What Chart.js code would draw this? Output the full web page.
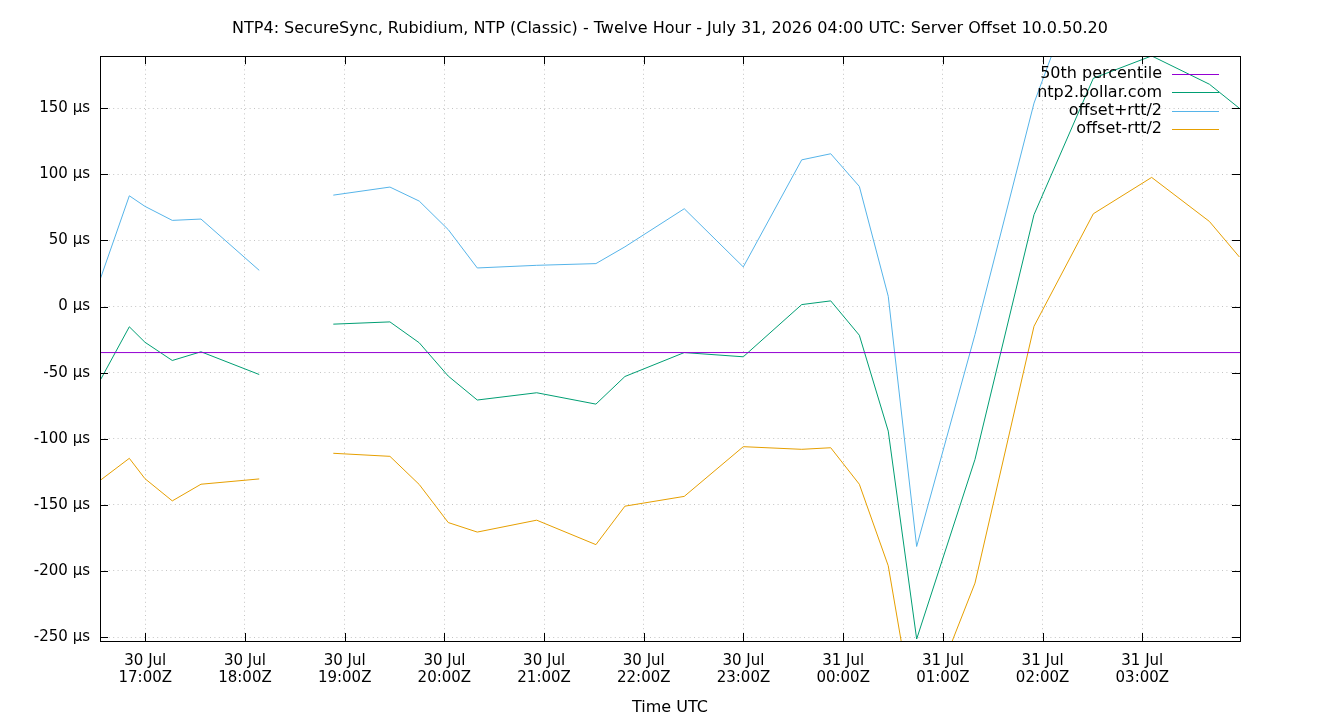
<!DOCTYPE html>
<html>
<head>
<meta charset="utf-8">
<title>Server Offset 10.0.50.20</title>
<script src="https://cdn.jsdelivr.net/npm/chart.js@4.4.1/dist/chart.umd.min.js"></script>
<style>
  body { margin: 0; background: #fff; }
  #wrap { width: 1340px; height: 720px; }
</style>
</head>
<body>
<div id="wrap"><canvas id="offsetChart" width="1340" height="720"></canvas></div>
<script>
// sample times, hours since 30 Jul 00:00 UTC (null row = gap in the data)
const sampleHours = [16.553, 16.84, 16.997, 17.271, 17.559, 18.143, 18.5, 18.886, 19.454, 19.748, 20.039, 20.33,
  20.926, 21.52, 21.811, 22.406, 22.998, 23.584, 23.875, 24.162, 24.452, 24.737, 25.322, 25.914, 26.509, 27.094, 27.673, 27.974]

// ntp2.bollar.com offset (µs)
const offsetUs = [-55.1, -15.3, -27, -40.8, -34.2, -51.4, null, -13.3, -11.6, -27.4, -52.6, -70.7,
  -65.2, -73.8, -52.9, -34.8, -38, 1.5, 4.3, -21.7, -94.2, -251.5, -115.6, 69.5, 172.7, 189.6, 168.2, 150]

// offset + rtt/2 (µs)
const upperUs = [21.7, 83.8, 75.8, 65.2, 66.2, 27.4, null, 84.3, 90.4, 79.8, 58.2, 29.2,
  31.2, 32.5, 45.2, 74, 30, 111, 115.6, 90.9, 7.8, -181.5, -21.2, 153.9, 275, 281.5, 272, 262.5]

// offset - rtt/2 (µs)
const lowerUs = [-131.2, -114.8, -130.2, -147, -134.4, -130.4, null, -111, -113.3, -134.6, -163.4, -170.6,
  -161.6, -180.1, -151, -143.6, -106, -108, -106.8, -134.4, -196.1, -321.5, -209.2, -14.9, 70.2, 97.7, 64.4, 37.5]

const medianUs = -34.8

// axes
const xMin = 16.546
const xMax = 27.98
const yMin = -253
const yMax = 189.4
const xTickHours = [17, 18, 19, 20, 21, 22, 23, 24, 25, 26, 27]
const xTickDays = ['30 Jul', '30 Jul', '30 Jul', '30 Jul', '30 Jul', '30 Jul', '30 Jul', '31 Jul', '31 Jul', '31 Jul', '31 Jul']
const xTickTimes = ['17:00Z', '18:00Z', '19:00Z', '20:00Z', '21:00Z', '22:00Z', '23:00Z', '00:00Z', '01:00Z', '02:00Z', '03:00Z']
const yTickValues = [-250, -200, -150, -100, -50, 0, 50, 100, 150]

const FONT = "'DejaVu Sans', 'Liberation Sans', sans-serif"
Chart.defaults.font.family = FONT
Chart.defaults.font.size = 15
Chart.defaults.color = '#000'

function toPoints(ys) {
    return sampleHours.map((h, i) => ({ x: h, y: ys[i] }))
}

// gnuplot style frame: border box plus inward ticks on all four sides
const framePlugin = {
    id: 'frame',
    afterDatasetsDraw(chart) {
        const { ctx, chartArea: a, scales } = chart
        ctx.save()
        ctx.strokeStyle = '#000'
        ctx.lineWidth = 1
        ctx.beginPath()
        xTickHours.forEach(h => {
            const px = Math.round(scales.x.getPixelForValue(h)) + 0.5
            ctx.moveTo(px, a.bottom); ctx.lineTo(px, a.bottom - 8)
            ctx.moveTo(px, a.top); ctx.lineTo(px, a.top + 8)
        })
        yTickValues.forEach(v => {
            const py = Math.round(scales.y.getPixelForValue(v)) + 0.5
            ctx.moveTo(a.left, py); ctx.lineTo(a.left + 8, py)
            ctx.moveTo(a.right, py); ctx.lineTo(a.right - 8, py)
        })
        ctx.stroke()
        ctx.strokeRect(Math.round(a.left) + 0.5, Math.round(a.top) + 0.5,
            Math.round(a.right - a.left), Math.round(a.bottom - a.top))
        ctx.restore()
    },
    afterDraw(chart) {
        // key, top right inside the plot
        const { ctx } = chart
        ctx.save()
        ctx.font = '16px ' + FONT
        ctx.textAlign = 'right'
        ctx.textBaseline = 'middle'
        chart.data.datasets.forEach((ds, i) => {
            const y = 74 + i * 18.4
            ctx.fillStyle = '#000'
            ctx.fillText(ds.label, 1162, y)
            ctx.strokeStyle = ds.borderColor
            ctx.lineWidth = 1
            ctx.beginPath()
            ctx.moveTo(1172, Math.round(y) + 0.5)
            ctx.lineTo(1219, Math.round(y) + 0.5)
            ctx.stroke()
        })
        ctx.restore()
    }
}

const ctx = document.getElementById('offsetChart')

new Chart(ctx, {
    type: 'line',
    data: {
        datasets: [
            {
                label: '50th percentile',
                data: [{ x: xMin, y: medianUs }, { x: xMax, y: medianUs }],
                borderColor: '#9400d3'
            },
            {
                label: 'ntp2.bollar.com',
                data: toPoints(offsetUs),
                borderColor: '#009e73'
            },
            {
                label: 'offset+rtt/2',
                data: toPoints(upperUs),
                borderColor: '#56b4e9'
            },
            {
                label: 'offset-rtt/2',
                data: toPoints(lowerUs),
                borderColor: '#e69f00'
            }
        ]
    },
    options: {
        responsive: false,
        animation: false,
        spanGaps: false,
        layout: { padding: 0 },
        elements: {
            point: { radius: 0, hoverRadius: 0 },
            line: { borderWidth: 1, tension: 0, fill: false }
        },
        scales: {
            x: {
                type: 'linear',
                min: xMin,
                max: xMax,
                afterBuildTicks: scale => { scale.ticks = xTickHours.map(v => ({ value: v })) },
                afterFit: scale => { scale.height = 79 },
                grid: { color: '#c4c4c4', lineWidth: 1, drawTicks: false },
                border: { display: false, dash: [1, 3.4] },
                ticks: {
                    autoSkip: false,
                    maxRotation: 0,
                    padding: 11,
                    font: { size: 15, lineHeight: 1.17 },
                    callback: (v, i) => [xTickDays[i], xTickTimes[i]]
                },
                title: {
                    display: true,
                    text: 'Time UTC',
                    font: { size: 16, lineHeight: 1.2 },
                    padding: { top: 0, bottom: 3 }
                }
            },
            y: {
                type: 'linear',
                min: yMin,
                max: yMax,
                afterBuildTicks: scale => { scale.ticks = yTickValues.map(v => ({ value: v })) },
                afterFit: scale => { scale.width = 100 },
                grid: { color: '#c4c4c4', lineWidth: 1, drawTicks: false },
                border: { display: false, dash: [1, 3.4] },
                ticks: {
                    padding: 10,
                    font: { size: 15 },
                    callback: v => `${v} µs`
                }
            },
            // empty right margin so the title centres on the whole page
            yRight: {
                type: 'linear',
                position: 'right',
                min: yMin,
                max: yMax,
                afterFit: scale => { scale.width = 100 },
                grid: { display: false, drawOnChartArea: false },
                border: { display: false },
                ticks: { display: false }
            }
        },
        plugins: {
            legend: { display: false },
            tooltip: { enabled: false },
            title: {
                display: true,
                text: 'NTP4: SecureSync, Rubidium, NTP (Classic) - Twelve Hour - July 31, 2026 04:00 UTC: Server Offset 10.0.50.20',
                color: '#000',
                font: { size: 16, weight: 'normal', lineHeight: 1.2 },
                padding: { top: 19, bottom: 18 }
            }
        }
    },
    plugins: [framePlugin]
})
</script>
</body>
</html>
